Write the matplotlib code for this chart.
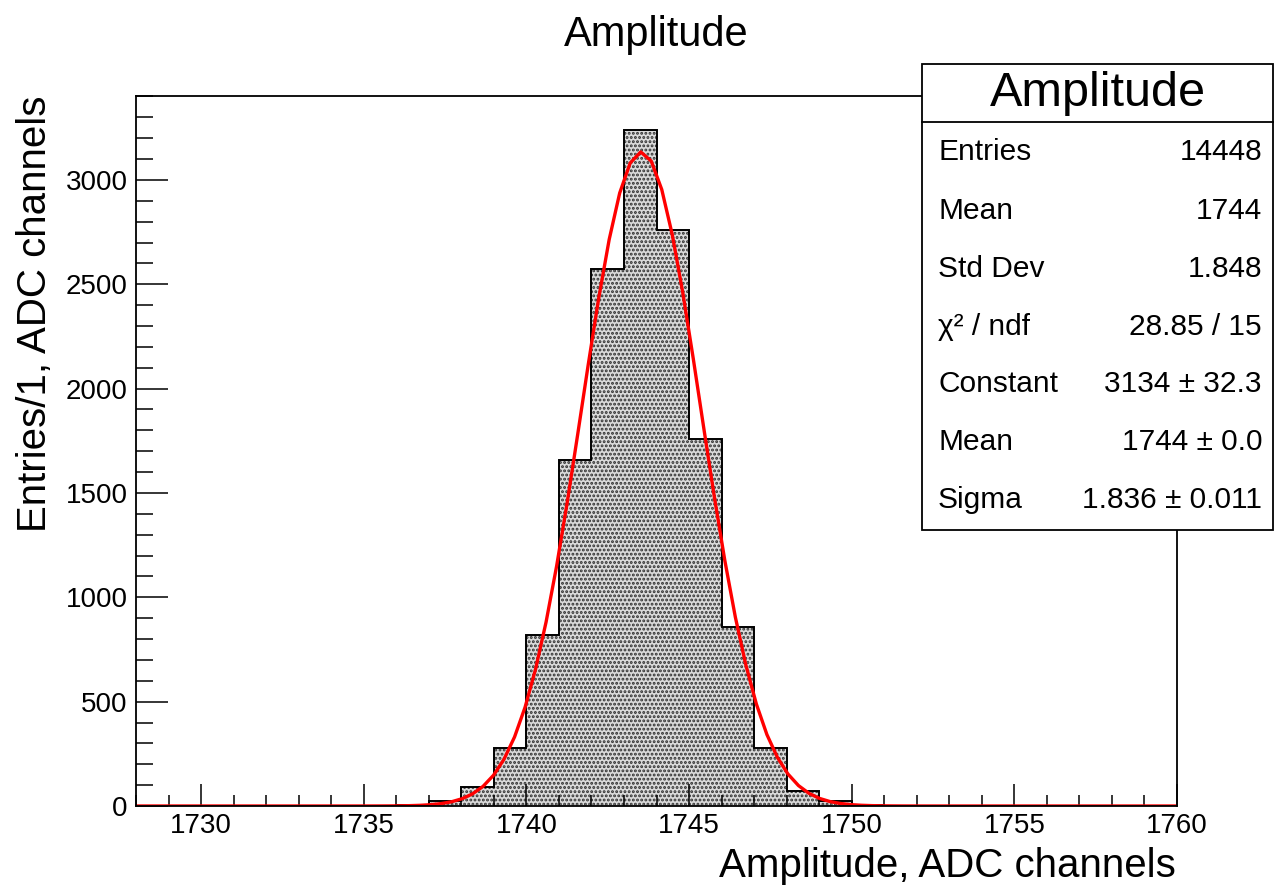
import matplotlib
matplotlib.use('Agg')
import matplotlib.pyplot as plt
from matplotlib.patches import Rectangle
from matplotlib.lines import Line2D
from matplotlib.ticker import MultipleLocator
import numpy as np

plt.rcParams['font.family'] = ['Liberation Sans', 'DejaVu Sans']
plt.rcParams['hatch.linewidth'] = 1.4

# ============================================================================
# DATA
# ============================================================================

bin_left = [1736, 1737, 1738, 1739, 1740, 1741, 1742, 1743, 1744, 1745, 1746, 1747, 1748, 1749, 1750]
counts = [3, 22, 91, 278, 819, 1658, 2573, 3240, 2760, 1758, 858, 278, 70, 22, 3]

# gaussian fit parameters (stats box)
fit_const = 3134
fit_mean = 1743.53
fit_sigma = 1.836

stat_labels = ['Entries', 'Mean', 'Std Dev', 'χ² / ndf', 'Constant', 'Mean', 'Sigma']
stat_values = ['14448', '1744', '1.848', '28.85 / 15', '3134 ± 32.3', '1744 ± 0.0', '1.836 ± 0.011']

# ============================================================================
# FIGURE
# ============================================================================

W, H = 1274, 888
fig = plt.figure(figsize=(W / 100, H / 100), dpi=100)
ax = fig.add_axes([136 / W, 1 - 806 / H, (1177 - 136) / W, (806 - 96) / H])

edges = np.append(bin_left, bin_left[-1] + 1)
ax.stairs(counts, edges, fill=True, facecolor='#dadada', edgecolor='#303030',
          hatch='....', linewidth=0)
ax.stairs(counts, edges, color='black', linewidth=1.4)

xf = np.linspace(1728, 1760, 100)
yf = fit_const * np.exp(-0.5 * ((xf - fit_mean) / fit_sigma) ** 2)
ax.plot(xf, yf, color='red', linewidth=2.4)

ax.set_xlim(1728, 1760)
ax.set_ylim(0, 3402)

ax.xaxis.set_major_locator(MultipleLocator(5))
ax.xaxis.set_minor_locator(MultipleLocator(1))
ax.yaxis.set_major_locator(MultipleLocator(500))
ax.yaxis.set_minor_locator(MultipleLocator(100))
ax.tick_params(axis='x', which='major', direction='in', length=15.8, width=1.1,
               labelsize=20, pad=5, top=False)
ax.tick_params(axis='x', which='minor', direction='in', length=7.9, width=1.1, top=False)
ax.tick_params(axis='y', which='major', direction='in', length=23, width=1.1,
               labelsize=20, pad=6, right=False)
ax.tick_params(axis='y', which='minor', direction='in', length=12.2, width=1.1, right=False)
for s in ax.spines.values():
    s.set_linewidth(1.3)

# titles
fig.text(656.5 / W, 1 - 35 / H, 'Amplitude', ha='center', va='center', fontsize=30)
fig.text(35 / W, 1 - 96 / H, 'Entries/1, ADC channels', rotation=90,
         ha='center', va='top', fontsize=29)
fig.text(1176 / W, 1 - 866 / H, 'Amplitude, ADC channels', ha='right', va='center', fontsize=29)

# stats box
bx0, bx1 = 922 / W, 1273 / W
by_top, by_bot, by_head = 1 - 64 / H, 1 - 530 / H, 1 - 122 / H
fig.patches.append(Rectangle((bx0, by_bot), bx1 - bx0, by_top - by_bot, transform=fig.transFigure,
                             facecolor='white', edgecolor='black', linewidth=1.3, zorder=5))
fig.lines.append(Line2D([bx0, bx1], [by_head, by_head], transform=fig.transFigure,
                        color='black', linewidth=1.3, zorder=6))
fig.text((bx0 + bx1) / 2, 1 - 93 / H, 'Amplitude', ha='center', va='center', fontsize=35, zorder=7)
row_y = [152, 211, 269, 327, 384, 442, 500]
for lab, val, yy in zip(stat_labels, stat_values, row_y):
    fig.text(938 / W, 1 - yy / H, lab, ha='left', va='center', fontsize=21.5, zorder=7)
    fig.text(1262 / W, 1 - yy / H, val, ha='right', va='center', fontsize=21.5, zorder=7)

fig.savefig('out.png', dpi=100)
